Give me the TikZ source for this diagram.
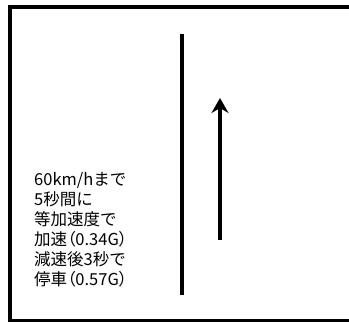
\documentclass[tikz,border=0pt]{standalone}
\usepackage{fontspec}
\newfontfamily\jpfont{Noto Sans CJK JP}
\newcommand{\pp}[1]{{\addfontfeatures{RawFeature=+palt}#1}}
\usetikzlibrary{arrows.meta}
\begin{document}
\begin{tikzpicture}[x=1pt,y=-1pt,
  frame/.style={line width=4pt},
  road/.style={line width=4pt},
  dirarrow/.style={line width=3.5pt,-{Stealth[length=15pt,width=17pt,inset=5pt]}},
  note/.style={font=\jpfont\fontsize{16.5}{20}\selectfont,align=left,anchor=north west,inner sep=0pt}]
\useasboundingbox (0,0) rectangle (349,322);
\draw[frame] (10,7) rectangle (370,320.5);
\coordinate (rtop) at (181.5,34);
\coordinate (rbot) at (181.5,295);
\draw[road] (rtop) -- (rbot);
\coordinate (atail) at (220,240);
\coordinate (ahead) at (220,98);
\draw[dirarrow] (atail) -- (ahead);
\node[note] (txt) at (34,172.5) {60km/hまで\\5秒間に\\等加速度で\\加速\pp{（}0.34G\pp{）}\\減速後3秒で\\停車\pp{（}0.57G\pp{）}};
\end{tikzpicture}
\end{document}
